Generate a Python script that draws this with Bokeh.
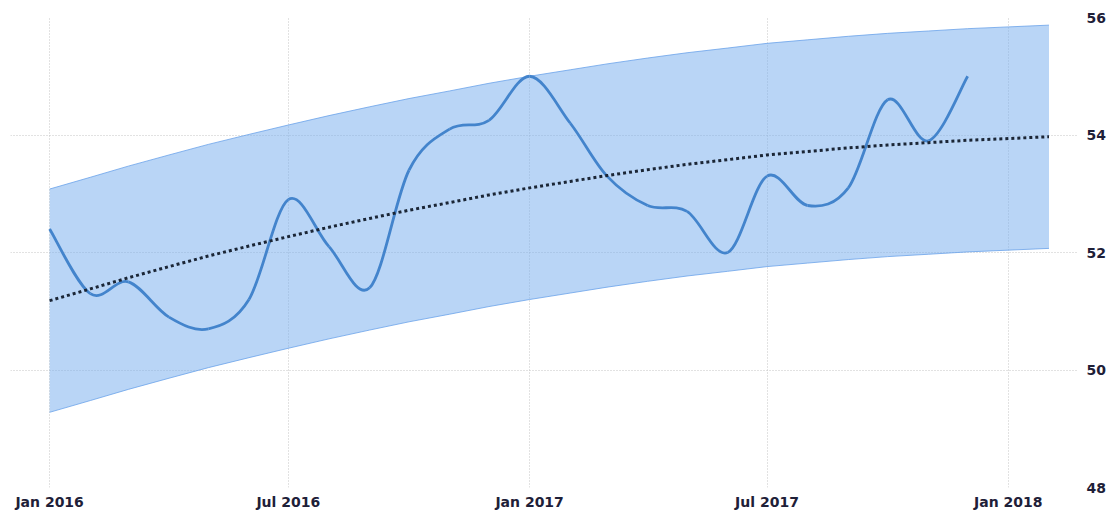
import pandas as pd
from bokeh.plotting import figure
from bokeh.models import FixedTicker, DatetimeTickFormatter, ColumnDataSource, Range1d
from bokeh.embed import file_html
from bokeh.resources import INLINE

# ---- data ----
months = ["2016-01", "2016-02", "2016-03", "2016-04", "2016-05", "2016-06",
          "2016-07", "2016-08", "2016-09", "2016-10", "2016-11", "2016-12",
          "2017-01", "2017-02", "2017-03", "2017-04", "2017-05", "2017-06",
          "2017-07", "2017-08", "2017-09", "2017-10", "2017-11", "2017-12"]
pmi = [52.4, 51.3, 51.5, 50.9, 50.7, 51.2, 52.9, 52.1, 51.4, 53.4, 54.1, 54.25,
       55.0, 54.2, 53.3, 52.8, 52.7, 52.0, 53.3, 52.8, 53.1, 54.6, 53.9, 55.0]

forecast_months = months + ["2018-01", "2018-02"]
trend = [51.18, 51.38, 51.57, 51.76, 51.94, 52.11, 52.27, 52.43, 52.58, 52.72,
         52.85, 52.98, 53.10, 53.21, 53.31, 53.41, 53.50, 53.58, 53.66, 53.72,
         53.78, 53.83, 53.87, 53.91, 53.94, 53.97]
upper = [53.08, 53.28, 53.47, 53.66, 53.84, 54.01, 54.17, 54.33, 54.48, 54.62,
         54.75, 54.88, 55.00, 55.11, 55.21, 55.31, 55.40, 55.48, 55.56, 55.62,
         55.68, 55.73, 55.77, 55.81, 55.84, 55.87]
lower = [49.28, 49.48, 49.67, 49.86, 50.04, 50.21, 50.37, 50.53, 50.68, 50.82,
         50.95, 51.08, 51.20, 51.31, 51.41, 51.51, 51.60, 51.68, 51.76, 51.82,
         51.88, 51.93, 51.97, 52.01, 52.04, 52.07]

x_tick_dates = ["2016-01-01", "2016-07-01", "2017-01-01", "2017-07-01", "2018-01-01"]
y_ticks = [48, 50, 52, 54, 56]


def ms(s):
    return pd.Timestamp(s).value / 1e6


xs = [ms(m + "-01") for m in months]
fx = [ms(m + "-01") for m in forecast_months]

# smooth spline through the monthly points as bezier segments (Catmull-Rom)
n = len(xs)
seg = dict(x0=[], y0=[], x1=[], y1=[], cx0=[], cy0=[], cx1=[], cy1=[])
for i in range(n - 1):
    p0 = (xs[max(i - 1, 0)], pmi[max(i - 1, 0)])
    p1 = (xs[i], pmi[i])
    p2 = (xs[i + 1], pmi[i + 1])
    p3 = (xs[min(i + 2, n - 1)], pmi[min(i + 2, n - 1)])
    seg["x0"].append(p1[0]); seg["y0"].append(p1[1])
    seg["x1"].append(p2[0]); seg["y1"].append(p2[1])
    seg["cx0"].append(p1[0] + (p2[0] - p0[0]) / 6.0)
    seg["cy0"].append(p1[1] + (p2[1] - p0[1]) / 6.0)
    seg["cx1"].append(p2[0] - (p3[0] - p1[0]) / 6.0)
    seg["cy1"].append(p2[1] - (p3[1] - p1[1]) / 6.0)

x_start = pd.Timestamp("2015-12-02 04:00")
x_end = pd.Timestamp("2018-02-23 12:00")

p = figure(width=1108, height=514, x_axis_type="datetime", y_axis_location="right",
           x_range=Range1d(x_start.value / 1e6, x_end.value / 1e6),
           y_range=Range1d(48, 56),
           output_backend="svg", toolbar_location=None,
           min_border_left=10, min_border_top=17, min_border_bottom=27, min_border_right=10)
p.outline_line_color = None
p.background_fill_color = "white"

band_src = ColumnDataSource(dict(x=fx, lo=lower, hi=upper, tr=trend))
p.varea(x="x", y1="lo", y2="hi", source=band_src, fill_color="#74abee", fill_alpha=0.5)
p.line(x="x", y="hi", source=band_src, line_color="#6aa3ea", line_alpha=0.8, line_width=1)
p.line(x="x", y="lo", source=band_src, line_color="#6aa3ea", line_alpha=0.8, line_width=1)

p.bezier(x0="x0", y0="y0", x1="x1", y1="y1", cx0="cx0", cy0="cy0", cx1="cx1", cy1="cy1",
         source=ColumnDataSource(seg), line_color="#4384cc", line_width=2.8)

p.line(x="x", y="tr", source=band_src, line_color="#1b2636", line_width=3, line_dash="3 3")

# axes
p.xaxis.ticker = FixedTicker(ticks=[ms(d) for d in x_tick_dates])
p.xaxis.formatter = DatetimeTickFormatter(days="%b %Y", months="%b %Y", years="%b %Y")
p.yaxis.ticker = FixedTicker(ticks=y_ticks)
for ax in (p.xaxis[0], p.yaxis[0]):
    ax.axis_line_color = None
    ax.major_tick_line_color = None
    ax.minor_tick_line_color = None
    ax.major_label_text_font = "DejaVu Sans"
    ax.major_label_text_font_size = "14px"
    ax.major_label_text_font_style = "bold"
    ax.major_label_text_color = "#1e2038"
p.xaxis.major_label_standoff = 0
p.yaxis.major_label_standoff = 2

for g in (p.xgrid[0], p.ygrid[0]):
    g.grid_line_color = "#c4c4c4"
    g.grid_line_dash = "1 2"
    g.grid_line_width = 1

open("out.html", "w").write(file_html(p, INLINE))
